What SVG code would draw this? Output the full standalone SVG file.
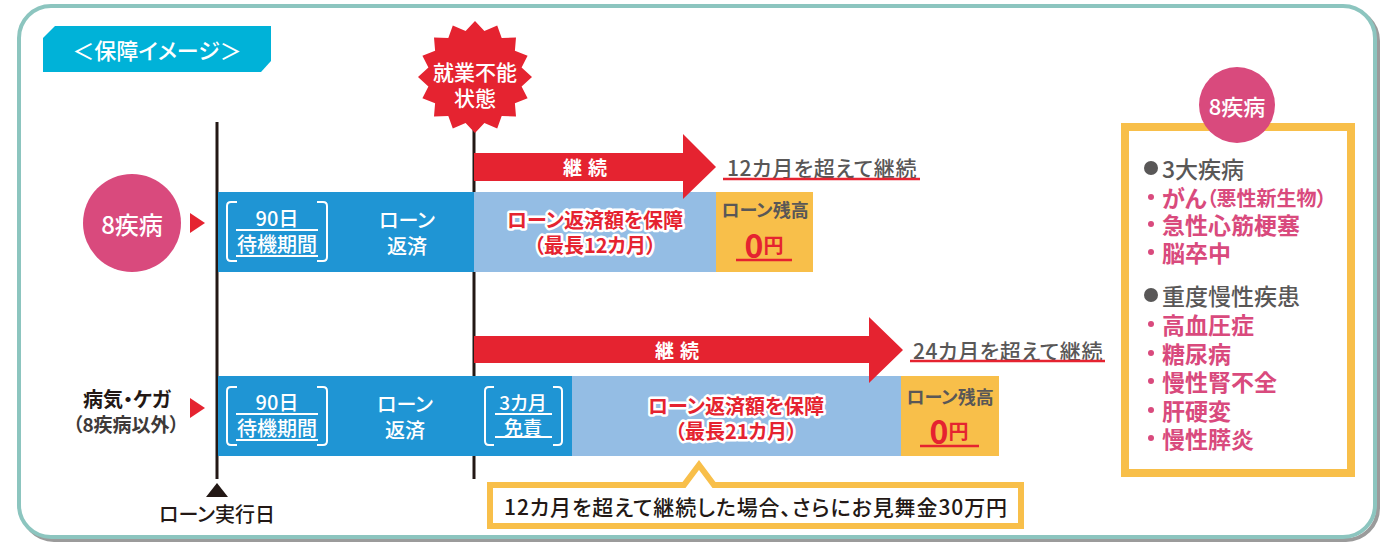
<svg xmlns="http://www.w3.org/2000/svg" width="1385" height="543" viewBox="0 0 1385 543">
<style>
text{font-family:"Noto Sans CJK JP","Noto Sans",sans-serif;dominant-baseline:central;font-feature-settings:"palt";font-weight:500}
.c{text-anchor:middle}
.b{font-weight:bold}
.w{fill:#fff}
.wb{fill:#fff;font-weight:bold}
.g{fill:#595757}
.red{fill:#e52330;font-weight:bold}
.out{fill:#e52330;font-weight:bold;stroke:#fff;stroke-width:5;stroke-linejoin:round;paint-order:stroke}
.pk{fill:#d94a7d;font-weight:bold}
.br{fill:none;stroke:#fff;stroke-width:2}
.ul{stroke:#fff;stroke-width:2}
.rul{stroke:#e52330;stroke-width:2.5}
.blue{fill:#1f95d4}
.lblue{fill:#94bde4}
.org{fill:#f8bf4a}
.arrow{fill:#e52330}
.vline{stroke:#231815;stroke-width:3}
.dot{fill:#d94a7d}
</style>
<defs>
<polygon id="tri" points="0,-10 15,0 0,10" fill="#e52330"/>
</defs>
<g id="frame">
<rect x="22" y="9" width="1356" height="531" rx="32" fill="none" stroke="#9b9b9b" stroke-width="4"/>
<rect x="19" y="6" width="1356" height="531" rx="32" fill="#fff" stroke="#8cc5bf" stroke-width="4"/>
</g>
<g id="title">
<polygon points="55,26 271,26 271,61 261,72 43,72 43,38" fill="#00b2d8"/>
<text x="157" y="49" class="c w" font-size="22">＜保障イメージ＞</text>
</g>
<g id="connectors">
<line x1="217" y1="122" x2="217" y2="479" class="vline"/>
<line x1="474" y1="110" x2="474" y2="479" class="vline"/>
<polygon points="217,483 228,497 206,497" fill="#231815"/>
</g>
<g id="row1">
<circle cx="132" cy="223" r="49" fill="#d94a7d"/>
<text x="132" y="223" class="c w" font-size="24">8疾病</text>
<use href="#tri" x="190" y="223"/>
<rect x="218" y="192" width="256" height="80" class="blue"/>
<rect x="474" y="192" width="242" height="80" class="lblue"/>
<rect x="716" y="192" width="97" height="80" class="org"/>
<path d="M237,202 H231 Q227,202 227,206 V257 Q227,261 231,261 H237 M317,202 H323 Q327,202 327,206 V257 Q327,261 323,261 H317" class="br"/>
<text x="277" y="217" class="c w" font-size="20">90日</text>
<line x1="236" y1="230" x2="318" y2="230" class="ul"/>
<text x="277" y="243" class="c w" font-size="20">待機期間</text>
<line x1="236" y1="256" x2="318" y2="256" class="ul"/>
<text x="407" y="219" class="c w" font-size="20">ローン</text>
<text x="407" y="245" class="c w" font-size="20">返済</text>
<text x="595" y="219" class="c out" font-size="20">ローン返済額を保障</text>
<text x="595" y="244" class="c out" font-size="20">（最長12カ月）</text>
<text x="765" y="209" class="c g b" font-size="18">ローン残高</text>
<text x="764" y="244" class="c red"><tspan font-size="32">0</tspan><tspan font-size="20">円</tspan></text>
<line x1="736" y1="260" x2="792" y2="260" class="rul"/>
</g>
<g id="arrow1">
<polygon points="474,153 683,153 683,134 716,167 683,199 683,181 474,181" class="arrow"/>
<text x="588" y="166" class="c wb" font-size="19" letter-spacing="6">継続</text>
<text x="822" y="167" class="c g" font-size="21" letter-spacing="0.6">12カ月を超えて継続</text>
<line x1="723" y1="179" x2="920" y2="179" class="rul"/>
</g>
<g id="row2">
<text x="127" y="398" class="c b" font-size="20" fill="#231815">病気・ケガ</text>
<text x="126" y="423" class="c b" font-size="19" fill="#3e3a39">（8疾病以外）</text>
<use href="#tri" x="190" y="408"/>
<rect x="218" y="376" width="354" height="80" class="blue"/>
<rect x="572" y="376" width="329" height="80" class="lblue"/>
<rect x="901" y="376" width="98" height="80" class="org"/>
<path d="M237,387 H231 Q227,387 227,391 V441 Q227,445 231,445 H237 M317,387 H323 Q327,387 327,391 V441 Q327,445 323,445 H317" class="br"/>
<text x="277" y="401" class="c w" font-size="20">90日</text>
<line x1="236" y1="414" x2="318" y2="414" class="ul"/>
<text x="277" y="427" class="c w" font-size="20">待機期間</text>
<line x1="236" y1="440" x2="318" y2="440" class="ul"/>
<text x="405" y="403" class="c w" font-size="20">ローン</text>
<text x="405" y="429" class="c w" font-size="20">返済</text>
<path d="M494,387 H489 Q485,387 485,391 V441 Q485,445 489,445 H494 M553,387 H558 Q562,387 562,391 V441 Q562,445 558,445 H553" class="br"/>
<text x="523" y="401" class="c w" font-size="19">3カ月</text>
<line x1="495" y1="414" x2="552" y2="414" class="ul"/>
<text x="523" y="426" class="c w" font-size="19">免責</text>
<line x1="495" y1="437" x2="552" y2="437" class="ul"/>
<text x="736" y="405" class="c out" font-size="20">ローン返済額を保障</text>
<text x="736" y="430" class="c out" font-size="20">（最長21カ月）</text>
<text x="950" y="396" class="c g b" font-size="18">ローン残高</text>
<text x="949" y="430" class="c red"><tspan font-size="32">0</tspan><tspan font-size="20">円</tspan></text>
<line x1="920" y1="446" x2="979" y2="446" class="rul"/>
</g>
<g id="arrow2">
<polygon points="474,336 869,336 869,317 903,350 869,383 869,363 474,363" class="arrow"/>
<text x="680" y="349" class="c wb" font-size="19" letter-spacing="6">継続</text>
<text x="1008" y="350" class="c g" font-size="21" letter-spacing="0.6">24カ月を超えて継続</text>
<line x1="910" y1="361" x2="1105" y2="361" class="rul"/>
</g>
<g id="start">
<text x="217" y="513" class="c" font-size="20" fill="#231815">ローン実行日</text>
</g>
<g id="callout">
<path d="M490,485 H684 L699,465 L714,485 H1021 V526 H490 Z" fill="#fff" stroke="#f8bf4a" stroke-width="6"/>
<text x="756" y="506" class="c" font-size="21" fill="#231815" letter-spacing="0.9">12カ月を超えて継続した場合、さらにお見舞金30万円</text>
</g>
<g id="burst">
<polygon points="475,21 484.4,30.9 497.2,25.4 501.7,38.1 516,37.5 514.9,50.8 527.6,55.8 521.6,67.6 532,77 521.6,86.4 527.6,98.2 514.9,103.2 516,116.5 501.7,115.9 497.2,128.6 484.4,123.1 475,133 465.6,123.1 452.8,128.6 448.3,115.9 434,116.5 435.1,103.2 422.4,98.2 428.4,86.4 418,77 428.4,67.6 422.4,55.8 435.1,50.8 434,37.5 448.3,38.1 452.8,25.4 465.6,30.9" fill="#e52330"/>
<text x="475" y="71" class="c w" font-size="21">就業不能</text>
<text x="475" y="97" class="c w" font-size="21">状態</text>
</g>
<g id="list">
<rect x="1125" y="127" width="226" height="346" fill="#fff" stroke="#f8bf4a" stroke-width="8"/>
<circle cx="1237" cy="105" r="38" fill="#d94a7d"/>
<text x="1237" y="105" class="c w" font-size="22">8疾病</text>
<circle cx="1151" cy="168" r="7" fill="#595757"/>
<text x="1162" y="168" font-size="23" fill="#595757">3大疾病</text>
<circle cx="1151" cy="197" r="3" class="dot"/>
<text x="1162" y="197" font-size="23" class="pk">がん<tspan font-size="20">（悪性新生物）</tspan></text>
<circle cx="1151" cy="224" r="3" class="dot"/>
<text x="1162" y="224" font-size="23" class="pk">急性心筋梗塞</text>
<circle cx="1151" cy="252" r="3" class="dot"/>
<text x="1162" y="252" font-size="23" class="pk">脳卒中</text>
<circle cx="1151" cy="295" r="7" fill="#595757"/>
<text x="1162" y="295" font-size="23" fill="#595757">重度慢性疾患</text>
<circle cx="1151" cy="324" r="3" class="dot"/>
<text x="1162" y="324" font-size="23" class="pk">高血圧症</text>
<circle cx="1151" cy="353" r="3" class="dot"/>
<text x="1162" y="353" font-size="23" class="pk">糖尿病</text>
<circle cx="1151" cy="381" r="3" class="dot"/>
<text x="1162" y="381" font-size="23" class="pk">慢性腎不全</text>
<circle cx="1151" cy="410" r="3" class="dot"/>
<text x="1162" y="410" font-size="23" class="pk">肝硬変</text>
<circle cx="1151" cy="438" r="3" class="dot"/>
<text x="1162" y="438" font-size="23" class="pk">慢性膵炎</text>
</g>
</svg>
